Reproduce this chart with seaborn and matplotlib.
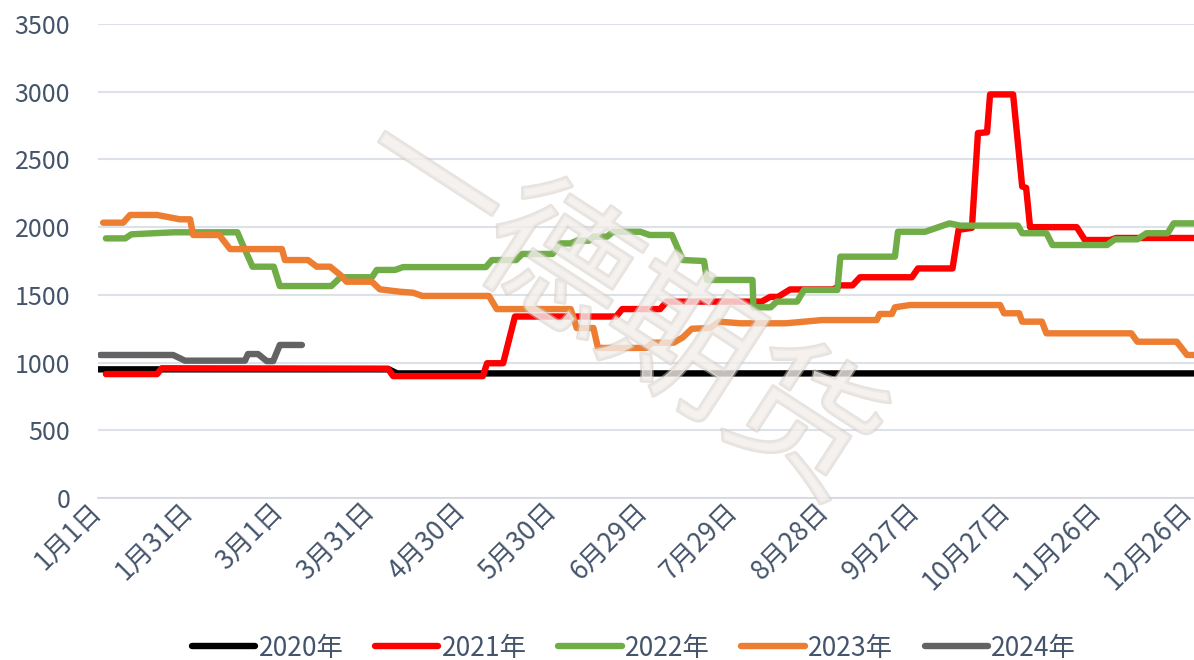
import numpy as np
import pandas as pd
import matplotlib
matplotlib.use("Agg")
import matplotlib.pyplot as plt
import matplotlib.patheffects as pe
from matplotlib.lines import Line2D
import seaborn as sns

# ---------------- data (day index from 1月1日, value) ----------------
years = ["2020年", "2021年", "2022年", "2023年", "2024年"]
colors = ["#000000", "#FF0000", "#70AD47", "#ED7D31", "#636363"]

days_2020 = [0, 96, 98.7, 365]
vals_2020 = [950, 950, 920, 920]

days_2021 = [2.6, 19.5, 21, 95.7, 97.4, 127, 128.4, 133.7, 137.6, 171, 173, 185.5,
             187.7, 219, 221.8, 224.4, 228.4, 242.6, 245, 249, 251.5, 268.6, 270.6,
             282, 284, 288.4, 290.4, 293.4, 294.4, 302, 305, 306.3, 307.6, 323,
             325.7, 334, 336, 365]
vals_2021 = [915, 915, 958, 955, 900, 900, 995, 995, 1340, 1340, 1395, 1395,
             1450, 1450, 1485, 1485, 1540, 1540, 1570, 1570, 1630, 1630, 1695,
             1695, 1980, 1995, 2695, 2700, 2980, 2980, 2300, 2290, 2000, 2000,
             1905, 1905, 1920, 1920]

days_2022 = [2.6, 9, 11, 25, 46, 47.5, 51, 58, 60, 77, 80, 90.4, 92, 98, 100.7, 128,
             130, 138, 140, 150, 152.5, 156, 158, 162, 163.5, 168, 170, 179, 182,
             189.4, 193, 200, 201, 216, 216.3, 222, 224, 230.7, 233, 244, 245, 263,
             264, 273, 281, 284.5, 303.6, 305, 313, 315, 333, 335.6, 343, 346, 353,
             355, 365]
vals_2022 = [1917, 1917, 1947, 1962, 1962, 1883, 1708, 1708, 1565, 1565, 1630, 1630,
             1684, 1684, 1705, 1705, 1757, 1757, 1802, 1802, 1880, 1880, 1900, 1900,
             1930, 1930, 1966, 1966, 1942, 1942, 1757, 1750, 1610, 1610, 1408, 1408,
             1450, 1450, 1536, 1536, 1782, 1782, 1966, 1966, 2028, 2011, 2011, 1955,
             1955, 1868, 1868, 1910, 1910, 1955, 1955, 2028, 2028]

days_2023 = [1.7, 8.3, 10.6, 19.5, 27, 30.4, 31.4, 40, 43.6, 60.7, 61.7, 69.3, 72.2,
             76.6, 80, 82, 90.4, 93, 99.7, 104, 107, 129, 131.6, 156, 158, 163.5,
             165, 181, 183, 190, 193, 196, 202, 205, 212, 227, 239, 257, 258, 262,
             263, 268, 297.7, 299, 304, 305, 311.5, 313, 341, 343, 356, 359.4, 365]
vals_2023 = [2033, 2033, 2090, 2090, 2058, 2058, 1942, 1942, 1838, 1838, 1757, 1757,
             1708, 1708, 1646, 1597, 1597, 1541, 1523, 1516, 1492, 1492, 1395, 1395,
             1255, 1255, 1108, 1108, 1147, 1147, 1186, 1250, 1255, 1302, 1290, 1290,
             1314, 1314, 1359, 1359, 1408, 1425, 1425, 1364, 1364, 1302, 1302, 1216,
             1216, 1154, 1154, 1056, 1056]

days_2024 = [0.7, 24.8, 28.7, 48.5, 49.5, 52.8, 55.7, 57.8, 60, 67.3]
vals_2024 = [1056, 1056, 1014, 1014, 1063, 1063, 1011, 1011, 1130, 1130]

tick_days = [0, 30, 60, 90, 120, 150, 180, 210, 240, 270, 300, 330, 360]
tick_labels = ["1月1日", "1月31日", "3月1日", "3月31日", "4月30日", "5月30日",
               "6月29日", "7月29日", "8月28日", "9月27日", "10月27日", "11月26日",
               "12月26日"]
y_ticks = [0, 500, 1000, 1500, 2000, 2500, 3000, 3500]

# ---------------- build long table ----------------
all_days = [days_2020, days_2021, days_2022, days_2023, days_2024]
all_vals = [vals_2020, vals_2021, vals_2022, vals_2023, vals_2024]
frames = []
for yr, d, v in zip(years, all_days, all_vals):
    frames.append(pd.DataFrame({"day": d, "value": v, "year": yr}))
df = pd.concat(frames, ignore_index=True)

# ---------------- style ----------------
sns.set_style("white")
plt.rcParams["font.family"] = ["Noto Sans CJK SC", "DejaVu Sans"]
text_color = "#44546A"
grid_color = "#DDE1E8"
lw = 4.6

fig = plt.figure(figsize=(11.94, 6.60), dpi=100)
ax = fig.add_axes([98 / 1194, (660 - 498) / 660, 1 - 98 / 1194, (498 - 24) / 660])

sns.lineplot(data=df, x="day", y="value", hue="year", hue_order=years,
             palette=dict(zip(years, colors)), estimator=None, sort=False,
             linewidth=lw, ax=ax, legend=False)
for line in ax.get_lines():
    line.set_solid_capstyle("round")
    line.set_solid_joinstyle("round")

ax.set_xlim(0, 361.7)
ax.set_ylim(0, 3500)
ax.set_yticks(y_ticks)
ax.set_yticklabels([str(t) for t in y_ticks], fontsize=18, color=text_color)
ax.yaxis.grid(True, color=grid_color, linewidth=1.5)
ax.set_axisbelow(True)
ax.tick_params(axis="y", length=0, pad=20)

ax.set_xticks(tick_days)
ax.set_xticklabels(tick_labels, rotation=45, ha="right", va="center",
                   rotation_mode="anchor", fontsize=19, color=text_color)
ax.tick_params(axis="x", which="major", length=0, pad=7)
ax.set_xticks([0, 100, 200, 300], minor=True)
ax.tick_params(axis="x", which="minor", length=6, width=1.3, color="#D6DAE0",
               direction="out")

for s in ["top", "right", "left"]:
    ax.spines[s].set_visible(False)
ax.spines["bottom"].set_color("#D6DAE0")
ax.spines["bottom"].set_linewidth(1.3)
ax.set_xlabel("")
ax.set_ylabel("")

# watermark
ax.text(0.515, 0.535, "一德期货", transform=fig.transFigure, fontsize=106,
        rotation=-33, ha="center", va="center", color="#F3EFEC", alpha=0.6,
        zorder=10,
        path_effects=[pe.withStroke(linewidth=2.5, foreground="#CFC7C0", alpha=0.5)])

# legend
handles = [Line2D([0], [0], color=c, linewidth=lw, solid_capstyle="round")
           for c in colors]
fig.legend(handles, years, loc="center", bbox_to_anchor=(634 / 1194, 1 - 648 / 660),
           ncol=5, frameon=False, fontsize=19, labelcolor=text_color,
           handlelength=2.4, handletextpad=0.12, columnspacing=1.2)

fig.savefig("out.png", dpi=100)
